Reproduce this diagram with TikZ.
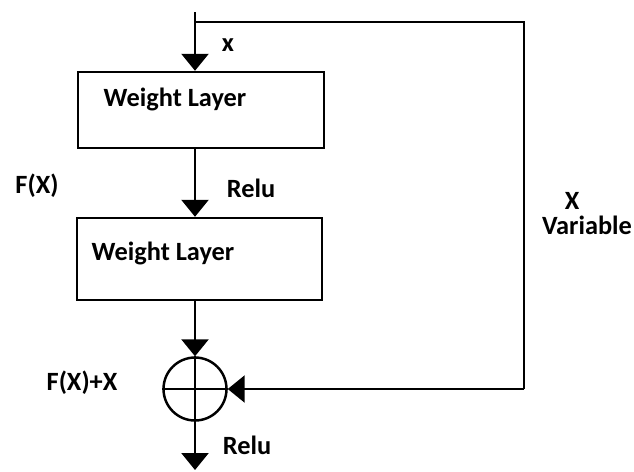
\documentclass[tikz,border=0pt]{standalone}
\usepackage{fontspec}
\setmainfont{Carlito}
\usetikzlibrary{arrows.meta}

\begin{document}
\begin{tikzpicture}[
    x=0.02cm, y=-0.02cm,
    wbox/.style={rectangle, draw, line width=1.4pt, minimum width=4.9cm, minimum height=1.55cm, inner sep=0pt},
    lbl/.style={font=\fontsize{15}{17}\selectfont\bfseries, inner sep=0pt},
    myarrow/.style={-{Triangle[width=0.54cm, length=0.34cm]}, line width=1.4pt},
    plain/.style={line width=1.4pt},
]
\useasboundingbox (0,0) rectangle (634,471);

\coordinate (in) at (195,12);
\coordinate (split) at (195,22);
\coordinate (ctop) at (524,22);
\coordinate (cbot) at (524,389);
\coordinate (out) at (195,470);

\node[wbox, minimum width=4.92cm, minimum height=1.52cm] (box1) at (201,110) {};
\node[wbox, minimum width=4.9cm, minimum height=1.64cm] (box2) at (199.5,259) {};
\node[circle, draw, line width=1.4pt, minimum size=1.26cm, inner sep=0pt] (sum) at (195,389) {};

\node[lbl] (w1) at (175,99) {Weight Layer};
\node[lbl] (w2) at (163,253) {Weight Layer};

\draw[myarrow] (in) -- (box1.north -| in);
\draw[myarrow] (box1.south -| in) -- (box2.north -| in);
\draw[myarrow] (box2.south -| in) -- (sum.north);
\draw[myarrow] (sum.south) -- (out);

% plus sign
\draw[plain] (sum.north) -- (sum.south);
\draw[plain] (sum.west) -- (sum.east);

% skip connection
\draw[plain] (split) -- (ctop) -- (cbot);
\draw[myarrow] (cbot) -- (sum.east);

\node[lbl] (xin) at (228,45) {x};
\node[lbl] (relu1) at (251,188) {Relu};
\node[lbl] (fx) at (37,186) {F(X)};
\node[lbl] (fxx) at (82,383) {F(X)+X};
\node[lbl] (relu2) at (247,445) {Relu};
\node[lbl] (xv) at (572,201) {X};
\node[lbl] (var) at (587,225) {Variable};
\end{tikzpicture}
\end{document}
